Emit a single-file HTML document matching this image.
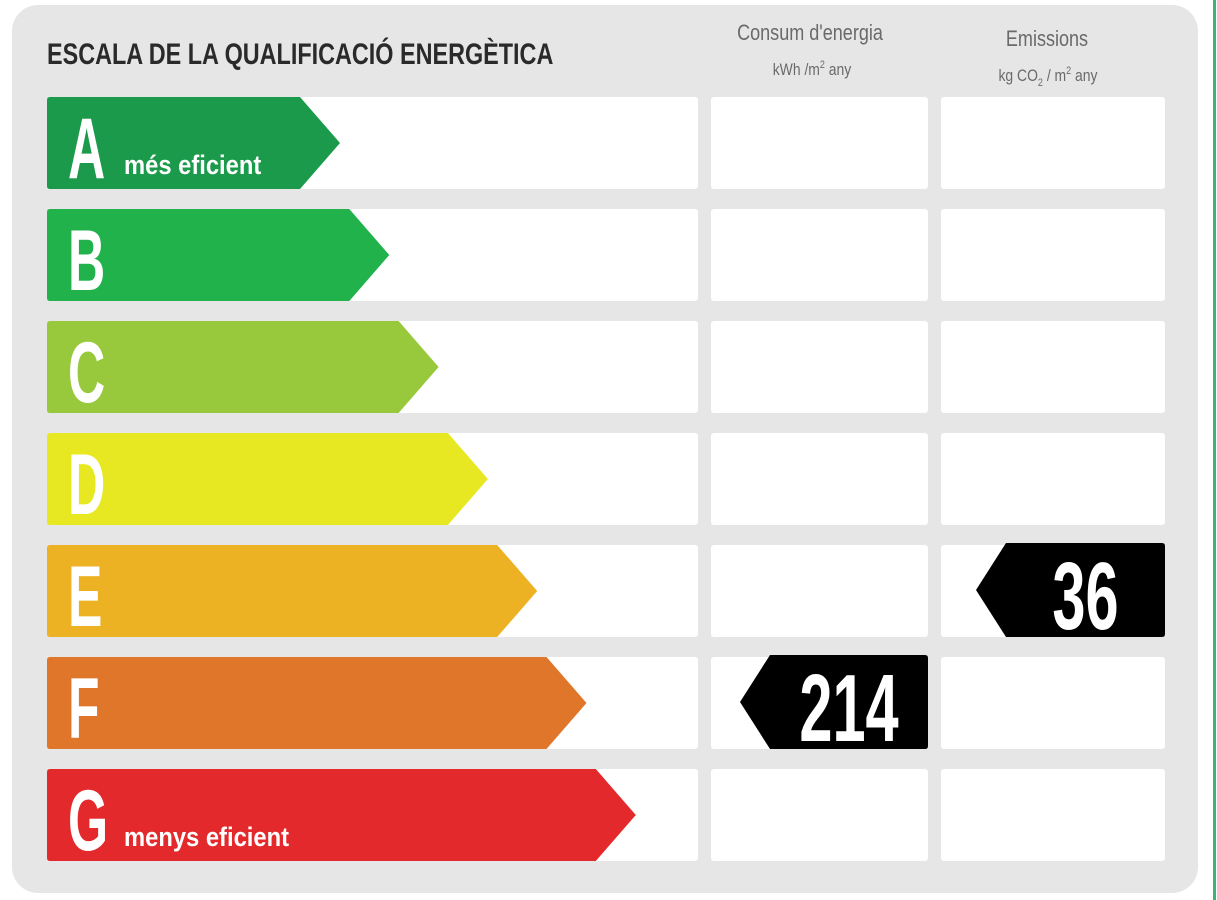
<!DOCTYPE html>
<html><head><meta charset="utf-8"><style>
html,body{margin:0;padding:0;background:#fff;width:1217px;height:900px;overflow:hidden}
svg{display:block}
text{font-family:"Liberation Sans",sans-serif}
</style></head><body>
<svg id="chart" width="1217" height="900">
<rect x="1213" y="0" width="3" height="900" fill="#3db37a"/>
<rect x="12" y="5" width="1186" height="888" rx="26" fill="#e6e6e6"/>
<text x="47" y="64" font-size="30" font-weight="bold" fill="#2a2a2a" transform="translate(47 0) scale(0.78 1) translate(-47 0)">ESCALA DE LA QUALIFICACIÓ ENERGÈTICA</text>
<text x="810" y="40" font-size="22" fill="#6a6a6a" text-anchor="middle" transform="translate(810 0) scale(0.82 1) translate(-810 0)">Consum d'energia</text>
<text x="812" y="75" font-size="17" fill="#6a6a6a" text-anchor="middle" transform="translate(812 0) scale(0.82 1) translate(-812 0)">kWh /m<tspan font-size="11" dy="-7">2</tspan><tspan dy="7">  any</tspan></text>
<text x="1047" y="46" font-size="22" fill="#6a6a6a" text-anchor="middle" transform="translate(1047 0) scale(0.82 1) translate(-1047 0)">Emissions</text>
<text x="1048" y="81" font-size="17" fill="#6a6a6a" text-anchor="middle" transform="translate(1048 0) scale(0.82 1) translate(-1048 0)">kg CO<tspan font-size="11" dy="5">2</tspan><tspan dy="-5">  / m</tspan><tspan font-size="11" dy="-7">2</tspan><tspan dy="7">  any</tspan></text>
<g id="rows"></g>
</svg>
<script>
const ratings = ["A","B","C","D","E","F","G"];
const colors = ["#1a9a4a","#22b24c","#98c83c","#e8e822","#ecb223","#e07629","#e3292b"];
const sublabels = ["més eficient","","","","","","menys eficient"];
const energyValue = 214;
const energyRating = "F";
const emissionValue = 36;
const emissionRating = "E";

const NS = "http://www.w3.org/2000/svg";
const g = document.getElementById("rows");
const rowY = i => 97 + i * 112;
const rowH = 92;
const tipX = i => 340 + i * 49.3;
function mk(tag, attrs){const e=document.createElementNS(NS,tag);for(const k in attrs)e.setAttribute(k,attrs[k]);g.appendChild(e);return e;}

ratings.forEach((r,i)=>{
  const y=rowY(i);
  let e=mk("rect",{x:47,y:y,width:651,height:rowH,rx:3,fill:"#fff"});
  
  
  e=mk("rect",{x:711,y:y,width:217,height:rowH,rx:3,fill:"#fff"});
  
  
  e=mk("rect",{x:941,y:y,width:224,height:rowH,rx:3,fill:"#fff"});
  
  
  const t=tipX(i);
  e=mk("path",{d:`M47 ${y+3} Q47 ${y} 50 ${y} L${t-40} ${y} L${t} ${y+rowH/2} L${t-40} ${y+rowH} L50 ${y+rowH} Q47 ${y+rowH} 47 ${y+rowH-3} Z`,fill:colors[i]});
  
  
  e=mk("text",{x:68,y:y+81,"font-size":86,"font-weight":"bold",fill:"#fff",transform:`translate(68 0) scale(0.6 1) translate(-68 0)`});
  e.textContent=r;
  
  
  if(sublabels[i]){
    e=mk("text",{x:124,y:y+77,"font-size":27,"font-weight":"bold",fill:"#fff",transform:`translate(124 0) scale(0.88 1) translate(-124 0)`});
    e.textContent=sublabels[i];
    
    
  }
});

function valueArrow(val, rating, left, right, name){
  const i=ratings.indexOf(rating); const y=rowY(i)-2; const h=rowH+2;
  let e=mk("path",{d:`M${left} ${y+h/2} L${left+30} ${y} L${right-3} ${y} Q${right} ${y} ${right} ${y+3} L${right} ${y+h-3} Q${right} ${y+h} ${right-3} ${y+h} L${left+30} ${y+h} Z`,fill:"#000"});
  
  
  const cx=(left+30+right)/2;
  e=mk("text",{x:cx,y:y+h-8,"font-size":96,"font-weight":"bold",fill:"#fff","text-anchor":"middle",transform:`translate(${cx} 0) scale(0.62 1) translate(${-cx} 0)`});
  e.textContent=val;
  
  
}
valueArrow(energyValue, energyRating, 740, 928, "energy");
valueArrow(emissionValue, emissionRating, 976, 1165, "emission");
</script>
</body></html>
